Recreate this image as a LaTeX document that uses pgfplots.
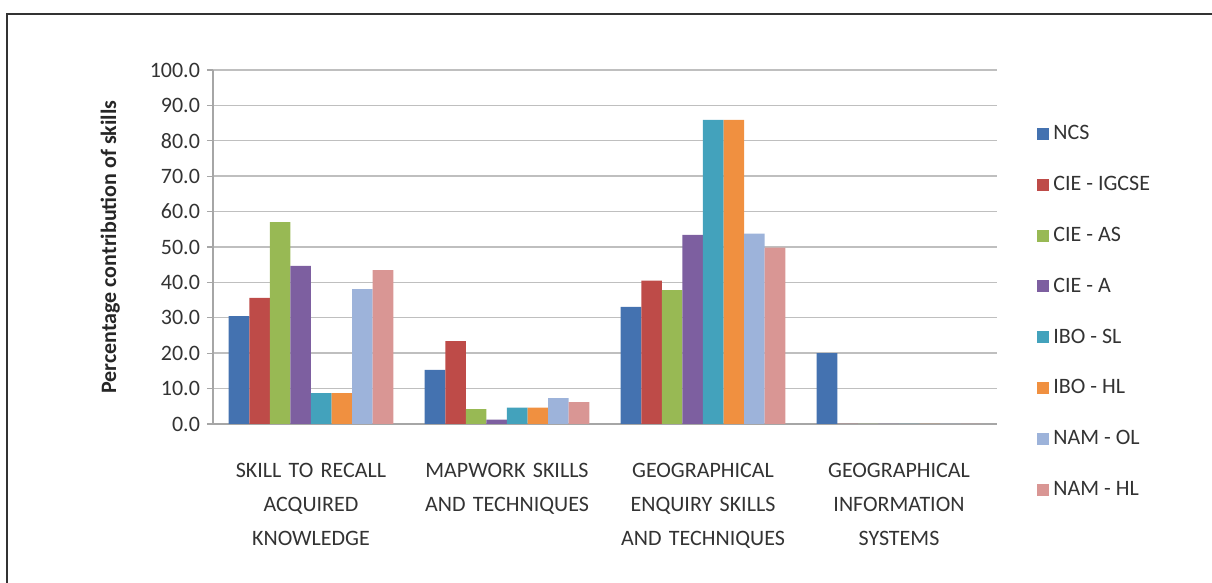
\documentclass[border=0pt]{standalone}
\usepackage{fontspec}
\setmainfont{Carlito}
\usepackage{pgfplots}
\pgfplotsset{compat=1.18}

\definecolor{cNCS}{HTML}{4472B0}
\definecolor{cIGCSE}{HTML}{BE4B48}
\definecolor{cAS}{HTML}{98B954}
\definecolor{cA}{HTML}{7D5FA0}
\definecolor{cSL}{HTML}{43A2BC}
\definecolor{cHL}{HTML}{F09040}
\definecolor{cOL}{HTML}{9DB3DA}
\definecolor{cNHL}{HTML}{D99694}

\pgfplotsset{
  sq legend/.style={legend image code/.code={\fill[##1] (0pt,-3pt) rectangle (6pt,3pt);}},
}

\begin{document}
\begin{tikzpicture}
\useasboundingbox (-106.5pt,-79.5pt) rectangle (499.5pt,212pt);
\begin{axis}[
    at={(0,0)}, anchor=south west,
    scale only axis,
    width=392pt, height=177pt,
    ybar=0pt,
    bar width=0.105,
    xmin=-0.5, xmax=3.5,
    ymin=0, ymax=100,
    ytick distance=10,
    axis lines*=left,
    axis line style={draw=black!35, line width=0.7pt},
    tick align=outside,
    major tick length=3pt,
    tick style={draw=black!35, line width=0.6pt},
    ymajorgrids=true,
    grid style={draw=black!25, line width=0.7pt},
    yticklabel style={/pgf/number format/.cd, fixed, fixed zerofill, precision=1, assume math mode=true},
    ticklabel style={font=\fontsize{11}{13}\selectfont, text=black!80},
    xtick={0,1,2,3},
    xticklabels={
      {SKILL TO RECALL\\ACQUIRED\\KNOWLEDGE},
      {MAPWORK SKILLS\\AND TECHNIQUES},
      {GEOGRAPHICAL\\ENQUIRY SKILLS\\AND TECHNIQUES},
      {GEOGRAPHICAL\\INFORMATION\\SYSTEMS}},
    xticklabel style={align=center, text width=100pt,
      font=\fontsize{11}{17}\selectfont, anchor=north, yshift=-13pt},
    x tick style={draw=none},
    extra x ticks={-0.5,0.5,1.5,2.5,3.5},
    extra x tick labels={},
    extra x tick style={tick style={draw=black!35, line width=0.6pt}},
    ylabel={\bfseries Percentage contribution of skills},
    ylabel style={at={(axis description cs:-0.131,0.5)}, anchor=center,
      rotate=0, font=\fontsize{11}{13}\selectfont, text=black!85},
    legend style={at={(axis description cs:1.051,0.86)}, anchor=north west, draw=none,
      fill=none, font=\fontsize{11}{13}\selectfont, text=black!80,
      row sep=11.4pt, inner sep=0pt,
      nodes={text height=8pt, text depth=2pt, inner sep=2pt},
      /tikz/every odd column/.style={xshift=0pt},
      /tikz/every even column/.style={xshift=2pt}},
    legend cell align=left,
]
\addplot[fill=cNCS, draw=none, sq legend] coordinates {(0,30.5) (1,15.3) (2,33.1) (3,20.0)};
\addlegendentry{NCS}
\addplot[fill=cIGCSE, draw=none, sq legend] coordinates {(0,35.6) (1,23.4) (2,40.5) (3,0)};
\addlegendentry{CIE - IGCSE}
\addplot[fill=cAS, draw=none, sq legend] coordinates {(0,57.0) (1,4.2) (2,37.8) (3,0)};
\addlegendentry{CIE - AS}
\addplot[fill=cA, draw=none, sq legend] coordinates {(0,44.7) (1,1.2) (2,53.4) (3,0)};
\addlegendentry{CIE - A}
\addplot[fill=cSL, draw=none, sq legend] coordinates {(0,8.7) (1,4.6) (2,85.9) (3,0)};
\addlegendentry{IBO - SL}
\addplot[fill=cHL, draw=none, sq legend] coordinates {(0,8.7) (1,4.6) (2,85.9) (3,0)};
\addlegendentry{IBO - HL}
\addplot[fill=cOL, draw=none, sq legend] coordinates {(0,38.1) (1,7.3) (2,53.8) (3,0)};
\addlegendentry{NAM - OL}
\addplot[fill=cNHL, draw=none, sq legend] coordinates {(0,43.5) (1,6.2) (2,49.8) (3,0)};
\addlegendentry{NAM - HL}
\end{axis}
\draw[black!80, line width=0.8pt] (-103pt,-79.5pt) -- (-103pt,205pt) -- (499.5pt,205pt);
\end{tikzpicture}
\end{document}
